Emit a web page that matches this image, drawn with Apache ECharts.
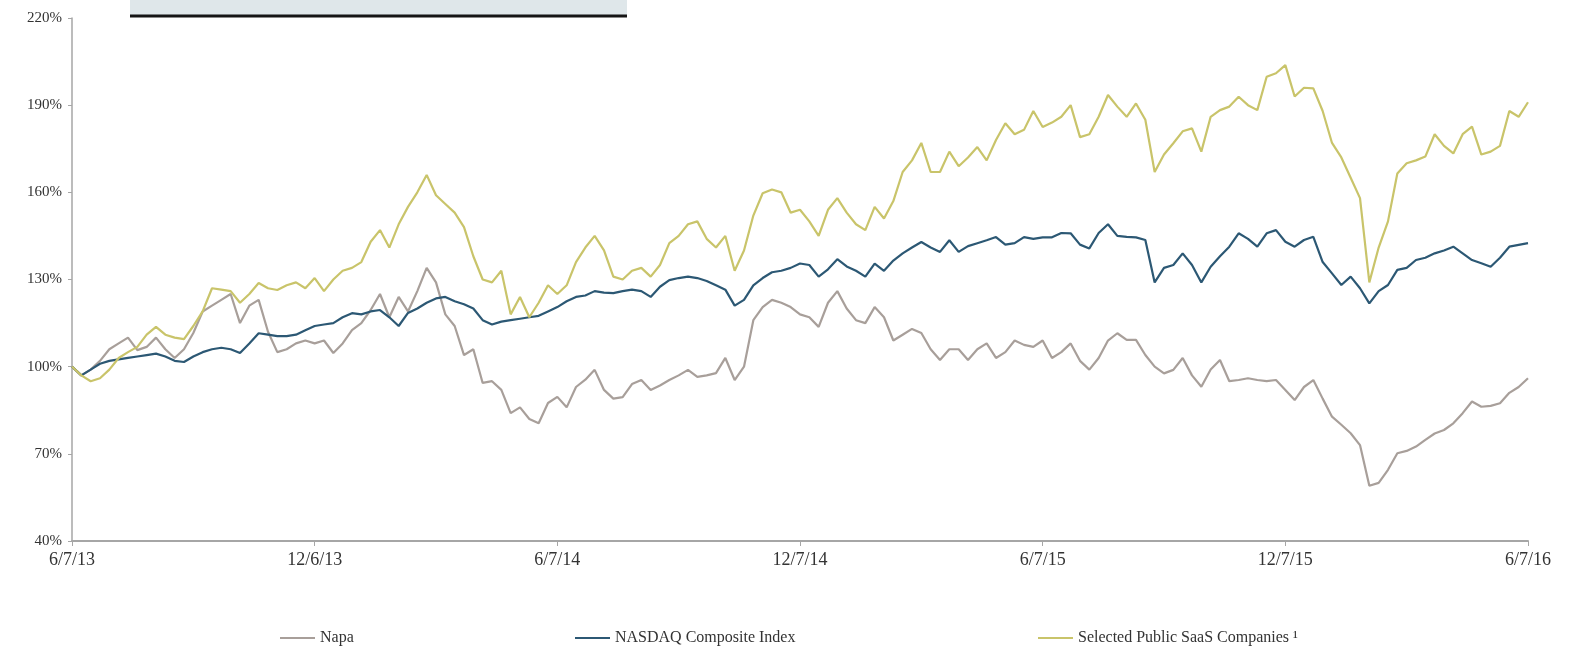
<!DOCTYPE html>
<html>
<head>
<meta charset="utf-8">
<script src="https://cdn.jsdelivr.net/npm/echarts@6/dist/echarts.min.js"></script>
<style>
  html, body { margin: 0; padding: 0; background: #ffffff; }
  #chart { width: 1589px; height: 656px; }
</style>
</head>
<body>
<div id="chart"></div>
<script>
// Tick labels on the x axis (one every 26 weeks)
const tickLabels = ['6/7/13', '12/6/13', '6/7/14', '12/7/14', '6/7/15', '12/7/15', '6/7/16'];
const seriesNames = ['Napa', 'NASDAQ Composite Index', 'Selected Public SaaS Companies \u00B9'];

// Weekly indexed performance (%), week 0 = 6/7/13
const napa = [
  100,97,99,102,106,108,110,105.7,106.8,110,106,103,106,111.6,119,121,123,125,115,121,123,112,105,106,108,109,108,
  109,104.7,108,112.6,115,119.5,125,117,124,119,126,134,129,118,114,104,106,94.4,95,92,84,86,82,80.5,87.5,89.6,
  86,93,95.5,98.9,92,89,89.5,94,95.4,92,93.5,95.4,97,98.9,96.5,97,97.8,103,95.4,100,116,120.5,123,122,120.5,118,
  117,113.7,122,126,120,116,115,120.5,117,109,111,113,111.6,106,102.3,106,106,102.3,106,108,103,105,109,107.5,106.8,109,
  103,105,108,102,99,103,109,111.5,109.2,109.2,104,100,97.7,98.9,103,97,93.1,99,102.3,95,95.4,96,95.4,95,95.4,92,
  88.5,93,95.4,89,82.8,80,77.1,73,59,60,64.5,70.2,71,72.5,74.8,77,78.2,80.5,84,88,86.2,86.5,87.4,91,93,96
];
const nasdaq = [
  100,97,99,101,102,102.5,103,103.5,104,104.5,103.5,102,101.6,103.5,105,106,106.5,106,104.7,108,111.5,111,110.5,110.5,111,112.5,114,
  114.5,115,117,118.4,118,119,119.5,117,114,118.5,120,122,123.5,124,122.5,121.5,120,116,114.5,115.5,116,116.5,117,117.5,119,120.5,
  122.5,124,124.5,126,125.5,125.3,126,126.5,126,124,127.5,129.8,130.5,131,130.5,129.5,128,126.5,121,123,128,130.5,132.5,133,134,135.5,
  135,131,133.5,137,134.5,133,131,135.5,133,136.5,139,141,142.9,141,139.5,143.5,139.5,141.5,142.5,143.5,144.6,142,142.5,144.6,144,144.5,
  144.5,146,145.9,142,140.7,146,149,145,144.7,144.5,143.6,129,134,135,139,135,129,134.4,138,141.3,145.9,144,141.3,145.9,147,143,
  141.3,143.6,144.7,136,132.1,128.1,131,127,121.8,126,128.1,133.3,134,136.7,137.5,139,140,141.3,139,136.7,135.6,134.4,137.5,141.3,141.9,142.5
];
const saas = [
  100,97,95,96,99,103,105,106.8,111,113.7,111,110,109.5,114,119,127,126.5,126,122,125,128.8,127,126.4,128,129,127,130.5,
  126,130,133,134,136,143,147,141,149,155,160,166,159,156,153,148,138,130,129,133,118,124,117,122,128,125,
  128,136,141,145,140,131,130,133,134,131,135,142.5,145,149,150,144,141,145,133,140,152,159.7,161,160,153,154,
  150,145,154,158,153,149,147,155,151,157,167,171,177,167,167,174,169,172,175.6,171,178,183.8,180,181.5,188,182.5,
  184,186,190,179,180,186,193.5,189.5,186,190.6,185,167,173,176.9,181,182,174,186,188.3,189.5,192.9,190,188.3,199.8,201,203.8,
  193,196,195.8,188,177,172,165,158,129,141,150,166.5,170,171,172.3,180,176,173.4,180,182.6,173,174,176,188,186,191
];

const colors = ['#a89f9a', '#2c5874', '#c9c46a'];
const FONT = '"Liberation Serif", "DejaVu Serif", serif';

function toPoints(arr) { return arr.map(function (v, i) { return [i, v]; }); }

const chart = echarts.init(document.getElementById('chart'), null, { renderer: 'canvas' });

function legendFor(idx, left) {
  return {
    data: [seriesNames[idx]],
    left: left,
    top: 625,
    icon: 'rect',
    itemWidth: 35,
    itemHeight: 2,
    itemGap: 4,
    textStyle: { fontFamily: FONT, fontSize: 16, color: '#333' },
    selectedMode: false
  };
}

chart.setOption({
  animation: false,
  backgroundColor: '#ffffff',
  color: colors,
  grid: { left: 72, right: 61, top: 18, bottom: 115, containLabel: false },
  graphic: [
    { type: 'rect', left: 130, top: 0, shape: { width: 497, height: 15 }, style: { fill: '#dfe7ea' }, silent: true },
    { type: 'line', shape: { x1: 130, y1: 16, x2: 627, y2: 16 }, style: { stroke: '#151515', lineWidth: 3 }, silent: true }
  ],
  legend: [
    legendFor(0, 275),
    legendFor(1, 570),
    legendFor(2, 1033)
  ],
  xAxis: {
    type: 'value',
    min: 0,
    max: 156,
    interval: 26,
    axisLine: { show: true, lineStyle: { color: '#a6a6a6', width: 2 } },
    axisTick: { show: true, length: 5, lineStyle: { color: '#a6a6a6', width: 1 } },
    splitLine: { show: false },
    axisLabel: {
      margin: 10,
      fontFamily: FONT,
      fontSize: 18,
      color: '#333',
      formatter: function (v) { return tickLabels[Math.round(v / 26)] || ''; }
    }
  },
  yAxis: {
    type: 'value',
    min: 40,
    max: 220,
    interval: 30,
    axisLine: { show: true, lineStyle: { color: '#a6a6a6', width: 1.5 } },
    axisTick: { show: true, length: 4, lineStyle: { color: '#a6a6a6' } },
    splitLine: { show: false },
    axisLabel: {
      margin: 10,
      fontFamily: FONT,
      fontSize: 15,
      color: '#333',
      formatter: '{value}%'
    }
  },
  series: [
    { name: seriesNames[0], type: 'line', data: toPoints(napa), symbol: 'none', lineStyle: { width: 2.2, color: colors[0] }, itemStyle: { color: colors[0] }, z: 2 },
    { name: seriesNames[1], type: 'line', data: toPoints(nasdaq), symbol: 'none', lineStyle: { width: 2.2, color: colors[1] }, itemStyle: { color: colors[1] }, z: 3 },
    { name: seriesNames[2], type: 'line', data: toPoints(saas), symbol: 'none', lineStyle: { width: 2.2, color: colors[2] }, itemStyle: { color: colors[2] }, z: 4 }
  ]
});
</script>
</body>
</html>
